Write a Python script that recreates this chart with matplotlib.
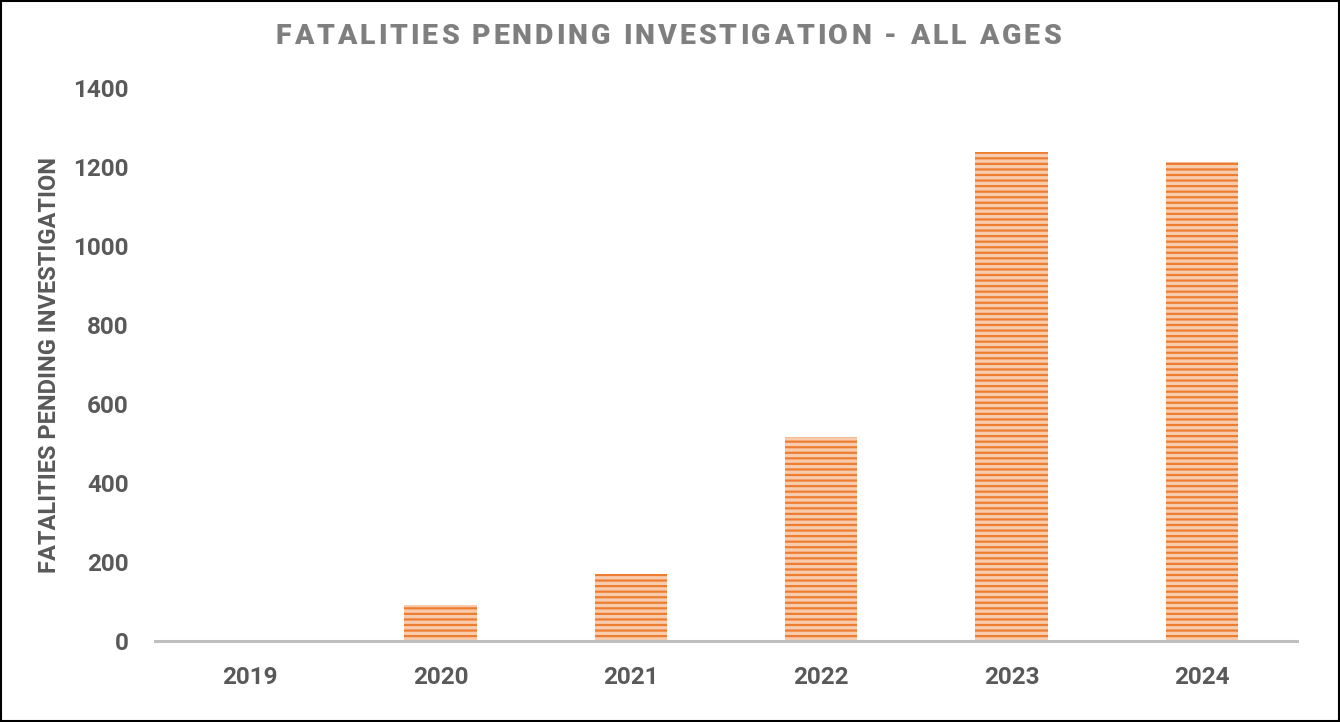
import numpy as np
import matplotlib.pyplot as plt
from matplotlib.patches import Rectangle

plt.rcParams['font.family'] = ['Roboto', 'DejaVu Sans']
plt.rcParams['hatch.linewidth'] = 1.6

## Data
years = ['2019', '2020', '2021', '2022', '2023', '2024']
pending = [0, 91, 170, 516, 1238, 1213]
yticks = [0, 200, 400, 600, 800, 1000, 1200, 1400]
title = 'FATALITIES PENDING INVESTIGATION - ALL AGES'

fig = plt.figure(figsize=(13.4, 7.22), dpi=100)
ax = fig.add_axes([0.1157, 0.1122, 0.8522, 0.7658])

x = np.arange(len(years))
# striped bars: light face + orange horizontal hatch
ax.bar(x, pending, width=0.38, color='#F8CBAD', edgecolor='#ED7D31',
       hatch='---', linewidth=0)

ax.set_xlim(-0.5, len(years) - 0.5)
ax.set_ylim(0, 1400)
ax.set_xticks(x)
ax.set_xticklabels(years)
ax.set_yticks(yticks)
for s in ['top', 'right', 'left']:
    ax.spines[s].set_visible(False)
ax.spines['bottom'].set_color('#BFBFBF')
ax.spines['bottom'].set_linewidth(2.2)
ax.tick_params(length=0, labelsize=17.5, labelcolor='#595959', pad=19)
ax.tick_params(axis='x', pad=18)
for lab in ax.get_xticklabels() + ax.get_yticklabels():
    lab.set_fontweight('bold')

ax.set_ylabel('FATALITIES PENDING INVESTIGATION', fontsize=17, fontweight='bold',
              color='#595959', labelpad=9)

# title with letter spacing, placed char by char
TSIZE = 20.5
TWEIGHT = 'heavy'
TARGET_W = 785  # px, measured on the reference
fig.canvas.draw()
r = fig.canvas.get_renderer()
def textw(s):
    t = fig.text(0, 0, s + 'X', fontsize=TSIZE, fontweight=TWEIGHT)
    w = t.get_window_extent(r).width
    t.remove()
    return w
wX = textw('')
base = [textw(title[:i]) - wX for i in range(len(title) + 1)]
spacing = (TARGET_W - base[-1]) / (len(title) - 1)
offsets = [b + i * spacing for i, b in enumerate(base)]
W = fig.bbox.width
x0 = 668 - TARGET_W / 2
for i, c in enumerate(title):
    fig.text((x0 + offsets[i]) / W, 0.949, c, ha='left', va='center',
             fontsize=TSIZE, fontweight=TWEIGHT, color='#7F7F7F')

# outer frame
fig.patches.append(Rectangle((0.001, 0.002), 0.998, 0.996, transform=fig.transFigure,
                             fill=False, edgecolor='black', linewidth=1.5))

plt.savefig('out.png', dpi=100)
